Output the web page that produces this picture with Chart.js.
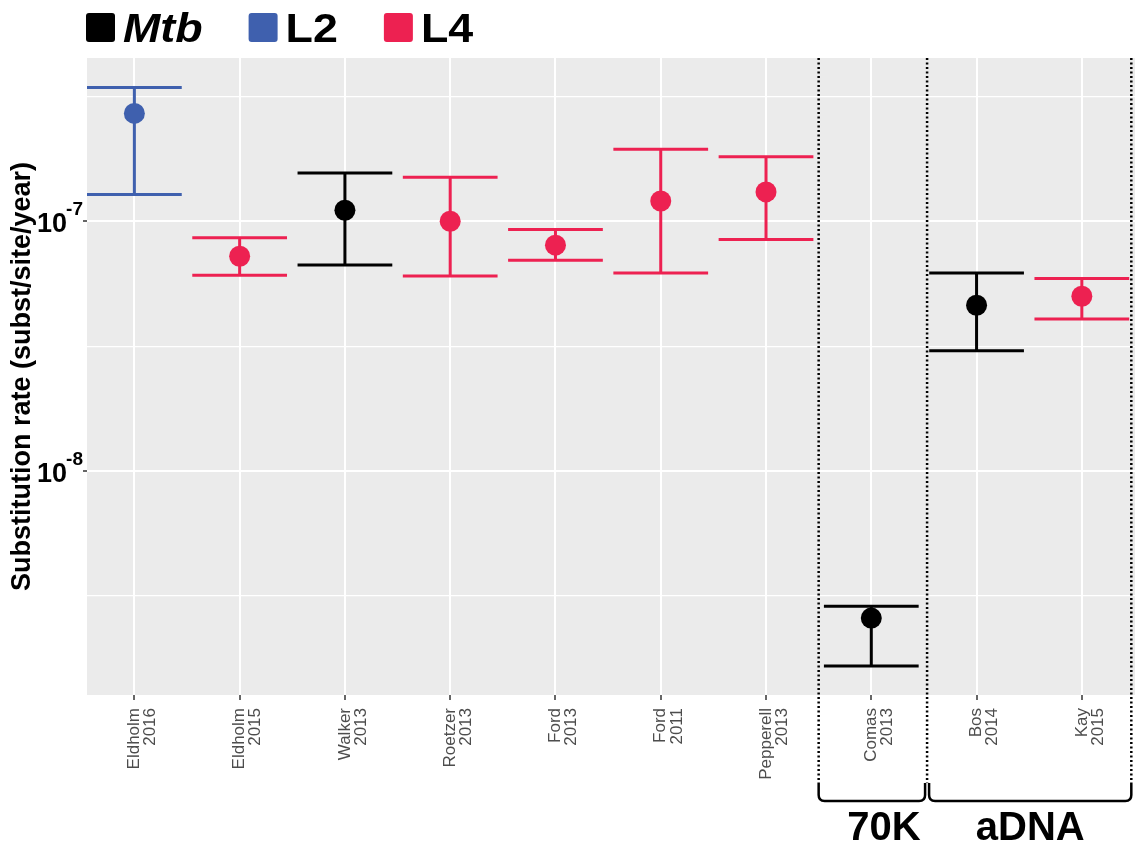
<!DOCTYPE html>
<html>
<head>
<meta charset="utf-8">
<script src="https://cdn.jsdelivr.net/npm/chart.js@4/dist/chart.umd.min.js"></script>
<style>
  html, body { margin: 0; padding: 0; background: #fff; overflow: hidden; }
  #wrap { width: 1135px; height: 846px; position: relative; }
</style>
</head>
<body>
<div id="wrap"><canvas id="rates"></canvas></div>
<script>
// ═══ substitution rate estimates (log scale) ═══
const studies = [
  ['Eldholm', '2016'], ['Eldholm', '2015'], ['Walker', '2013'], ['Roetzer', '2013'],
  ['Ford', '2013'], ['Ford', '2011'], ['Pepperell', '2013'], ['Comas', '2013'],
  ['Bos', '2014'], ['Kay', '2015']
];
const lineage = ['L2', 'L4', 'Mtb', 'L4', 'L4', 'L4', 'L4', 'Mtb', 'Mtb', 'L4'];
const rate  = [2.70e-7, 7.24e-8, 1.106e-7, 1.00e-7, 8.02e-8, 1.205e-7, 1.31e-7, 2.58e-9, 4.61e-8, 5.01e-8];
const lower = [1.28e-7, 6.08e-8, 6.68e-8, 6.03e-8, 6.98e-8, 6.21e-8, 8.45e-8, 1.66e-9, 3.03e-8, 4.06e-8];
const upper = [3.43e-7, 8.58e-8, 1.56e-7, 1.50e-7, 9.27e-8, 1.94e-7, 1.81e-7, 2.88e-9, 6.21e-8, 5.90e-8];
const groups = ['Mtb', 'L2', 'L4'];
const groupColors = ['#000000', '#3F60AE', '#ED2151'];
const majorTicks = [1e-8, 1e-7];
const minorTicks = [3.162e-9, 3.162e-8, 3.162e-7];
const sections = ['70K', 'aDNA'];

const FONT = 'Liberation Sans, Arial, sans-serif';
const colorOf = g => groupColors[groups.indexOf(g)];

// section boundaries / label centres, in category units
const sectionEdges = [6.5, 7.53, 9.47];
const sectionLabelX = [7.12, 8.51];

const backdrop = {
  id: 'backdrop',
  beforeDraw(chart) {
    const { ctx, chartArea: a } = chart;
    ctx.save();
    ctx.fillStyle = '#fff';
    ctx.fillRect(0, 0, chart.width, chart.height);
    ctx.fillStyle = '#EBEBEB';
    ctx.fillRect(a.left, a.top, a.right - a.left, a.bottom - a.top);
    ctx.restore();
  }
};

const errorBars = {
  id: 'errorBars',
  beforeDatasetsDraw(chart) {
    const { ctx, scales: { x, y } } = chart;
    const half = x.getPixelForValue(0.45) - x.getPixelForValue(0);
    ctx.save();
    ctx.lineWidth = 3;
    studies.forEach((s, i) => {
      const px = x.getPixelForValue(i);
      const lo = y.getPixelForValue(lower[i]);
      const hi = y.getPixelForValue(upper[i]);
      ctx.strokeStyle = colorOf(lineage[i]);
      ctx.beginPath();
      ctx.moveTo(px, lo); ctx.lineTo(px, hi);
      ctx.moveTo(px - half, lo); ctx.lineTo(px + half, lo);
      ctx.moveTo(px - half, hi); ctx.lineTo(px + half, hi);
      ctx.stroke();
    });
    ctx.restore();
  }
};

const decorations = {
  id: 'decorations',
  afterDraw(chart) {
    const { ctx, chartArea: a, scales: { x, y } } = chart;
    ctx.save();

    // y tick labels with superscript exponents
    ctx.fillStyle = '#000';
    ctx.textBaseline = 'alphabetic';
    majorTicks.forEach(v => {
      const py = y.getPixelForValue(v);
      const exp = String(Math.round(Math.log10(v)));
      ctx.font = 'bold 19px ' + FONT;
      const ew = ctx.measureText(exp).width;
      ctx.textAlign = 'left';
      ctx.fillText(exp, 83 - ew, py - 6);
      ctx.font = 'bold 27px ' + FONT;
      ctx.textAlign = 'right';
      ctx.fillText('10', 83 - ew + 1, py + 11);
    });

    // legend (text slightly stretched horizontally, like the original)
    let lx = 86;
    const stretch = 1.12;
    groups.forEach((g, k) => {
      ctx.fillStyle = groupColors[k];
      ctx.beginPath();
      ctx.roundRect(lx, 13, 29, 29, 3);
      ctx.fill();
      ctx.fillStyle = '#000';
      ctx.font = (g === 'Mtb' ? 'italic ' : '') + 'bold 40px ' + FONT;
      ctx.textAlign = 'left';
      const tx = lx + 37;
      ctx.save();
      ctx.translate(tx, 42);
      ctx.scale(stretch, 1);
      ctx.fillText(g, 0, 0);
      ctx.restore();
      lx = tx + ctx.measureText(g).width * stretch + 46;
    });

    // dotted separators
    ctx.strokeStyle = '#000';
    ctx.lineWidth = 2.5;
    ctx.setLineDash([2, 2.5]);
    const bTop = 783, bBot = 801, r = 6;
    sectionEdges.forEach(e => {
      const px = x.getPixelForValue(e);
      ctx.beginPath();
      ctx.moveTo(px, a.top);
      ctx.lineTo(px, bTop);
      ctx.stroke();
    });
    ctx.setLineDash([]);

    // brackets + labels
    sections.forEach((label, k) => {
      const x0 = x.getPixelForValue(sectionEdges[k]) + (k ? 2 : 0);
      const x1 = x.getPixelForValue(sectionEdges[k + 1]) - (k ? 0 : 2);
      ctx.beginPath();
      ctx.moveTo(x0, bTop);
      ctx.lineTo(x0, bBot - r);
      ctx.quadraticCurveTo(x0, bBot, x0 + r, bBot);
      ctx.lineTo(x1 - r, bBot);
      ctx.quadraticCurveTo(x1, bBot, x1, bBot - r);
      ctx.lineTo(x1, bTop);
      ctx.stroke();
      ctx.font = 'bold 40px ' + FONT;
      ctx.textAlign = 'center';
      ctx.fillStyle = '#000';
      ctx.fillText(label, x.getPixelForValue(sectionLabelX[k]), 840);
    });
    ctx.restore();
  }
};

new Chart(document.getElementById('rates'), {
  type: 'scatter',
  data: {
    datasets: groups.map((g, k) => ({
      label: g,
      data: rate.map((v, i) => ({ x: i, y: v, g: lineage[i] })).filter(p => p.g === g),
      backgroundColor: groupColors[k],
      borderWidth: 0,
      pointRadius: 10.5,
      pointHoverRadius: 10.5
    }))
  },
  options: {
    responsive: true,
    maintainAspectRatio: false,
    animation: false,
    layout: { autoPadding: false, padding: { top: 58, right: 0, left: 0, bottom: 0 } },
    plugins: { legend: { display: false }, tooltip: { enabled: false } },
    scales: {
      x: {
        type: 'linear', min: -0.45, max: 9.505,
        afterBuildTicks: s => { s.ticks = studies.map((_, i) => ({ value: i })); },
        afterFit: s => { s.height = 151; s.paddingLeft = 0; s.paddingRight = 0; },
        ticks: {
          autoSkip: false, minRotation: 90, maxRotation: 90, padding: 8,
          color: '#4D4D4D', font: { family: FONT, size: 17, lineHeight: 0.95 },
          callback: (v, i) => studies[i]
        },
        grid: { color: '#fff', lineWidth: 2, tickColor: '#333', tickLength: 5, tickWidth: 1.5 },
        border: { display: false }
      },
      y: {
        type: 'logarithmic', min: 1.27e-9, max: 4.5e-7,
        afterBuildTicks: s => {
          s.ticks = [...minorTicks, ...majorTicks].sort((p, q) => p - q)
            .map(v => ({ value: v, major: majorTicks.includes(v) }));
        },
        afterFit: s => { s.width = 87; s.paddingTop = 0; s.paddingBottom = 0; },
        ticks: { display: false },
        grid: {
          color: '#fff',
          lineWidth: c => (c.tick && c.tick.major ? 2 : 1.2),
          tickColor: c => (c.tick && c.tick.major ? '#333' : 'rgba(0,0,0,0)'),
          tickLength: 4, tickWidth: 1.5
        },
        border: { display: false },
        title: {
          display: true, text: 'Substitution rate (subst/site/year)', color: '#000',
          font: { family: FONT, size: 27, weight: 'bold' }, padding: { top: 6 }
        }
      }
    }
  },
  plugins: [backdrop, errorBars, decorations]
});
</script>
</body>
</html>
